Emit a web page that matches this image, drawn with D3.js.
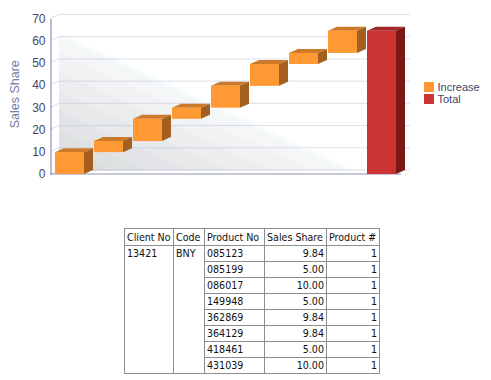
<!DOCTYPE html>
<html>
<head>
<meta charset="utf-8">
<script src="https://cdn.jsdelivr.net/npm/d3@7"></script>
<style>
  html, body { margin: 0; padding: 0; background: #fff; overflow: hidden; }
  #chart { position: absolute; left: 0; top: 0; }
  #grid { position: absolute; left: 124px; top: 228px; width: 256px; border-collapse: collapse;
    font: 10.6px "DejaVu Sans Condensed", "DejaVu Sans", sans-serif; color: #111; table-layout: fixed; }
  #grid th, #grid td { border: 1px solid #8e8e8e; padding: 0 2px; height: 15px; line-height: 15px;
    font-weight: normal; white-space: nowrap; overflow: hidden; text-align: left; }
  #grid th { height: 16px; line-height: 16px; }
  #grid td { vertical-align: top; }
  #grid td.num { text-align: right; }
</style>
</head>
<body>
<svg id="chart" width="491" height="225"></svg>
<table id="grid"></table>
<script>
const columns = ["Client No", "Code", "Product No", "Sales Share", "Product #"];
const columnWidths = [49, 31, 60, 62, 53];
const clientNo = "13421";
const code = "BNY";
const productNos = ["085123", "085199", "086017", "149948", "362869", "364129", "418461", "431039"];
const salesShares = [9.84, 5.00, 10.00, 5.00, 9.84, 9.84, 5.00, 10.00];
const productCounts = [1, 1, 1, 1, 1, 1, 1, 1];
const yTicks = [0, 10, 20, 30, 40, 50, 60, 70];
const legendLabels = ["Increase", "Total"];

const svg = d3.select("#chart");
const depthX = 9, depthY = -4;
const orange = { front: "#ff9933", top: "#cc7a29", side: "#a35f1f" };
const red = { front: "#cc3333", top: "#a32929", side: "#7a1818" };

const total = d3.sum(salesShares);
let running = 0;
const bars = salesShares.map((v, i) => {
  const d = { key: productNos[i], start: running, end: running + v, color: orange };
  running += v;
  return d;
});
bars.push({ key: "Total", start: 0, end: total, color: red });

const x = d3.scaleBand()
  .domain(bars.map(d => d.key))
  .range([50, 401])
  .paddingInner(0.256)
  .paddingOuter(0.128);

const y = d3.scaleLinear().domain([0, 70]).range([174, 18.5]);

// Back wall shading, a stack of wedges getting darker towards the corner
const wedgeSteps = [1, 0.97, 0.86, 0.72, 0.58, 0.44, 0.3, 0.18];
const wedgeFills = ["#f4fbfb", "#f5f6f7", "#f1f2f3", "#ecedef", "#e7e9ea", "#e3e4e8", "#dee1e2", "#dadcdf"];
const backLeft = x.range()[0] + depthX;
const backY0 = y(0) + depthY + 1;
wedgeSteps.forEach((s, i) => {
  svg.append("path")
    .attr("d", d3.line()([
      [backLeft, backY0],
      [backLeft, backY0 - 138 * s],
      [backLeft + 296 * s, backY0]
    ]) + "Z")
    .attr("fill", wedgeFills[i]);
});

// Gridlines on back wall and left wall
yTicks.forEach(t => {
  svg.append("path")
    .attr("d", d3.line()([
      [x.range()[0], y(t)],
      [backLeft, y(t) + depthY],
      [410, y(t) + depthY]
    ]))
    .attr("fill", "none")
    .attr("stroke", "#bfc4dc")
    .attr("stroke-opacity", 0.55)
    .attr("stroke-width", 1);
});

// Y axis
const axisY = svg.append("g")
  .attr("transform", `translate(${x.range()[0] + 0.5},0)`)
  .call(d3.axisLeft(y).tickValues(yTicks).tickSize(0).tickPadding(5));
axisY.select(".domain").attr("stroke", "#8f8fb5").attr("stroke-width", 1.2);
axisY.selectAll("text")
  .attr("fill", "#444466")
  .style("font", "12px 'Liberation Sans', Arial, sans-serif");

// X axis line
svg.append("line")
  .attr("x1", x.range()[0]).attr("x2", x.range()[1])
  .attr("y1", y(0)).attr("y2", y(0))
  .attr("stroke", "#8f8fb5").attr("stroke-width", 1.2);

svg.append("text")
  .attr("transform", `translate(19,${(y(0) + y(70)) / 2 - 2}) rotate(-90)`)
  .attr("text-anchor", "middle")
  .attr("fill", "#7a7aa6")
  .style("font", "12.5px 'Liberation Sans', Arial, sans-serif")
  .text("Sales Share");

// 3D bars
const w = x.bandwidth();
const barG = svg.selectAll("g.bar").data(bars).enter().append("g").attr("class", "bar");

barG.append("path")
  .attr("d", d => d3.line()([
    [x(d.key), y(d.end)],
    [x(d.key) + depthX, y(d.end) + depthY],
    [x(d.key) + w + depthX, y(d.end) + depthY],
    [x(d.key) + w, y(d.end)]
  ]) + "Z")
  .attr("fill", d => d.color.top);

barG.append("path")
  .attr("d", d => d3.line()([
    [x(d.key) + w, y(d.end)],
    [x(d.key) + w + depthX, y(d.end) + depthY],
    [x(d.key) + w + depthX, y(d.start) + depthY],
    [x(d.key) + w, y(d.start)]
  ]) + "Z")
  .attr("fill", d => d.color.side);

barG.append("rect")
  .attr("x", d => x(d.key))
  .attr("y", d => y(d.end))
  .attr("width", w)
  .attr("height", d => y(d.start) - y(d.end))
  .attr("fill", d => d.color.front);

// Legend
const legend = svg.selectAll("g.legend").data(legendLabels).enter().append("g")
  .attr("class", "legend")
  .attr("transform", (d, i) => `translate(424,${82 + i * 12})`);
legend.append("rect")
  .attr("width", 10).attr("height", 10)
  .attr("fill", (d, i) => i === 0 ? orange.front : red.front);
legend.append("text")
  .attr("x", 13.5).attr("y", 9)
  .attr("fill", "#444466")
  .style("font", "11px 'Liberation Sans', Arial, sans-serif")
  .text(d => d);

// Table
const table = d3.select("#grid");
table.append("colgroup").selectAll("col").data(columnWidths).enter().append("col")
  .style("width", d => d + "px");
table.append("tr").selectAll("th").data(columns).enter().append("th").text(d => d);
productNos.forEach((p, i) => {
  const row = table.append("tr");
  if (i === 0) {
    row.append("td").attr("rowspan", productNos.length).text(clientNo);
    row.append("td").attr("rowspan", productNos.length).text(code);
  }
  row.append("td").text(p);
  row.append("td").attr("class", "num").text(salesShares[i].toFixed(2));
  row.append("td").attr("class", "num").text(productCounts[i]);
});
</script>
</body>
</html>
